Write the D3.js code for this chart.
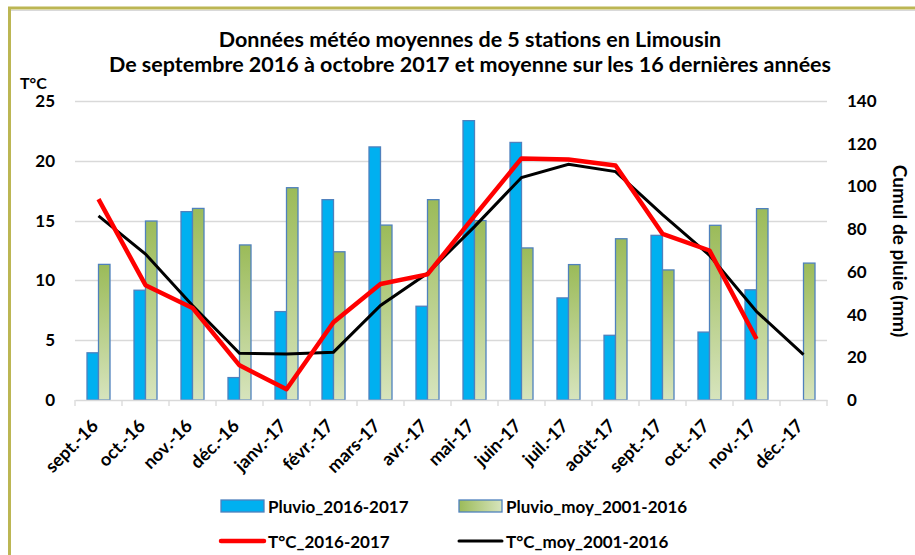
<!DOCTYPE html>
<html>
<head>
<meta charset="utf-8">
<script src="https://cdn.jsdelivr.net/npm/d3@7"></script>
<style>
  html, body { margin: 0; padding: 0; background: #fff; }
  svg { display: block; font-family: Lato, "Open Sans", sans-serif; }
</style>
</head>
<body>
<svg id="viz" width="915" height="555"></svg>
<script>
/* Data */

const months = ['sept.-16', 'oct.-16', 'nov.-16', 'déc.-16', 'janv.-17', 'févr.-17', 'mars-17', 'avr.-17',
  'mai-17', 'juin-17', 'juil.-17', 'août-17', 'sept.-17', 'oct.-17', 'nov.-17', 'déc.-17'];

const pluvio = [22.1, 51.4, 88.2, 10.5, 41.4, 93.8, 118.5, 43.9, 130.8, 120.6, 47.8, 30.3, 77.1, 31.8, 51.6, null];
const pluvioMoy = [63.5, 83.8, 89.7, 72.6, 99.4, 69.4, 81.9, 93.8, 84.0, 71.2, 63.4, 75.5, 60.9, 81.8, 89.6, 64.1];

const temp = [16.8, 9.6, 7.7, 2.9, 0.9, 6.5, 9.7, 10.5, 15.4, 20.2, 20.1, 19.6, 13.9, 12.5, 5.1, null];
const tempMoy = [15.4, 12.2, 7.9, 3.9, 3.85, 4.0, 7.9, 10.6, 14.5, 18.6, 19.7, 19.1, 15.5, 12.1, 7.4, 3.8];

const tempTicks = [0, 5, 10, 15, 20, 25];
const rainTicks = [0, 20, 40, 60, 80, 100, 120, 140];

const titleLines = ['Données météo moyennes de 5 stations en Limousin',
  'De septembre 2016 à octobre 2017 et moyenne sur les 16 dernières années'];

/* Visualization */

const svg = d3.select('#viz');

const mLeft = 75, mRight = 827, mTop = 101, mBottom = 400;

// frame
svg.append('line').attr('x1', 8).attr('x2', 915).attr('y1', 10.5).attr('y2', 10.5)
  .attr('stroke', '#d9d9d9').attr('stroke-width', 1);
svg.append('line').attr('x1', 9.5).attr('x2', 9.5).attr('y1', 7).attr('y2', 555)
  .attr('stroke', '#bcb653').attr('stroke-width', 3);
svg.append('line').attr('x1', 8).attr('x2', 915).attr('y1', 8).attr('y2', 8)
  .attr('stroke', '#bcb653').attr('stroke-width', 3);

// gradients for average rain
const defs = svg.append('defs');
const grad = defs.append('linearGradient')
  .attr('id', 'green').attr('x1', 0).attr('x2', 0).attr('y1', 0).attr('y2', 1);
grad.append('stop').attr('offset', '0%').attr('stop-color', '#9bbb59');
grad.append('stop').attr('offset', '100%').attr('stop-color', '#d7e4bd');

const gradH = defs.append('linearGradient')
  .attr('id', 'greenH').attr('x1', 0).attr('x2', 1).attr('y1', 0).attr('y2', 0);
gradH.append('stop').attr('offset', '0%').attr('stop-color', '#9bbb59');
gradH.append('stop').attr('offset', '100%').attr('stop-color', '#d7e4bd');

// scales
const x = d3.scaleBand().domain(months).range([mLeft, mRight]);
const xSub = d3.scaleBand().domain(['a', 'b']).range([0, 23]);
const yT = d3.scaleLinear().domain([0, 25]).range([mBottom, mTop]);
const yR = d3.scaleLinear().domain([0, 140]).range([mBottom, mTop]);

// grid
svg.append('g').selectAll('line').data(tempTicks.slice(1)).join('line')
  .attr('x1', mLeft).attr('x2', mRight)
  .attr('y1', d => Math.round(yT(d)) + 0.5).attr('y2', d => Math.round(yT(d)) + 0.5)
  .attr('stroke', '#d9d9d9').attr('stroke-width', 1.3);

// left axis
const yAxisL = svg.append('g').attr('transform', `translate(${mLeft},0)`)
  .call(d3.axisLeft(yT).tickValues(tempTicks).tickSize(0).tickPadding(20));
yAxisL.select('.domain').remove();
yAxisL.selectAll('text').attr('font-size', 17).attr('font-weight', 'bold').attr('fill', '#000')
  .attr('font-family', 'Lato, sans-serif');

// right axis
const yAxisR = svg.append('g').attr('transform', `translate(${mRight},0)`)
  .call(d3.axisRight(yR).tickValues(rainTicks).tickSize(0).tickPadding(20));
yAxisR.select('.domain').remove();
yAxisR.selectAll('text').attr('font-size', 17).attr('font-weight', 'bold').attr('fill', '#000')
  .attr('font-family', 'Lato, sans-serif');

// bars
const groups = svg.append('g').selectAll('g').data(months).join('g')
  .attr('transform', d => `translate(${x(d) + x.bandwidth() / 2 - 11.5},0)`);

groups.filter((d, i) => pluvio[i] !== null).append('rect')
  .attr('x', xSub('a')).attr('width', xSub.bandwidth())
  .attr('y', d => yR(pluvio[months.indexOf(d)]))
  .attr('height', d => mBottom - yR(pluvio[months.indexOf(d)]))
  .attr('fill', '#00b0f0').attr('stroke', '#4f81bd').attr('stroke-width', 1.3);

groups.append('rect')
  .attr('x', xSub('b')).attr('width', xSub.bandwidth())
  .attr('y', d => yR(pluvioMoy[months.indexOf(d)]))
  .attr('height', d => mBottom - yR(pluvioMoy[months.indexOf(d)]))
  .attr('fill', 'url(#green)').attr('stroke', '#4f81bd').attr('stroke-width', 1.3);

// x axis
const xAxis = svg.append('g').attr('transform', `translate(0,${mBottom})`)
  .call(d3.axisBottom(x).tickSize(0).tickFormat(''));
xAxis.select('.domain').attr('stroke', '#d9d9d9').attr('stroke-width', 1.3);
xAxis.append('g').selectAll('line').data(months.concat([null])).join('line')
  .attr('x1', (d, i) => mLeft + i * x.step()).attr('x2', (d, i) => mLeft + i * x.step())
  .attr('y1', 0).attr('y2', 6).attr('stroke', '#d9d9d9').attr('stroke-width', 1.3);

svg.append('g').selectAll('text').data(months).join('text')
  .attr('transform', d => `translate(${x(d) + x.bandwidth() / 2 + 1},${mBottom + 27}) rotate(-45)`)
  .attr('text-anchor', 'end')
  .attr('font-size', 18).attr('font-weight', 'bold')
  .text(d => d);

// lines
const line = (arr, yScale) => d3.line()
  .defined((d, i) => arr[i] !== null)
  .x(d => x(d) + x.bandwidth() / 2)
  .y((d, i) => yScale(arr[i]));

svg.append('path').attr('d', line(tempMoy, yT)(months))
  .attr('fill', 'none').attr('stroke', '#000').attr('stroke-width', 3);
svg.append('path').attr('d', line(temp, yT)(months))
  .attr('fill', 'none').attr('stroke', '#ff0000').attr('stroke-width', 4.5)
  .attr('stroke-linejoin', 'round');

// titles
svg.append('g').selectAll('text').data(titleLines).join('text')
  .attr('x', 470).attr('y', (d, i) => 47 + i * 25)
  .attr('text-anchor', 'middle').attr('font-size', 21.5).attr('font-weight', 'bold')
  .text(d => d);

svg.append('text').attr('x', 20).attr('y', 89)
  .attr('font-size', 16).attr('font-weight', 'bold').text('T°C');

svg.append('text')
  .attr('transform', 'translate(893,251) rotate(90)')
  .attr('text-anchor', 'middle').attr('font-size', 19).attr('font-weight', 'bold')
  .text('Cumul de pluie (mm)');

// legend
const legend = [
  { label: 'Pluvio_2016-2017', x: 221, y: 506, type: 'rect', fill: '#00b0f0' },
  { label: 'Pluvio_moy_2001-2016', x: 459, y: 506, type: 'rect', fill: 'url(#greenH)' },
  { label: 'T°C_2016-2017', x: 221, y: 541, type: 'line', color: '#ff0000', w: 4.5 },
  { label: 'T°C_moy_2001-2016', x: 459, y: 541, type: 'line', color: '#000', w: 3 }
];

const items = svg.append('g').selectAll('g').data(legend).join('g')
  .attr('transform', d => `translate(${d.x},${d.y})`);

items.filter(d => d.type === 'rect').append('rect')
  .attr('x', 0).attr('y', -6).attr('width', 43).attr('height', 12)
  .attr('fill', d => d.fill).attr('stroke', '#4f81bd').attr('stroke-width', 1.3);

items.filter(d => d.type === 'line').append('line')
  .attr('x1', 0).attr('x2', 43).attr('y1', 0).attr('y2', 0)
  .attr('stroke', d => d.color).attr('stroke-width', d => d.w).attr('stroke-linecap', 'round');

items.append('text').attr('x', 47).attr('y', 6.5)
  .attr('font-size', 17).attr('font-weight', 'bold').text(d => d.label);
</script>
</body>
</html>
